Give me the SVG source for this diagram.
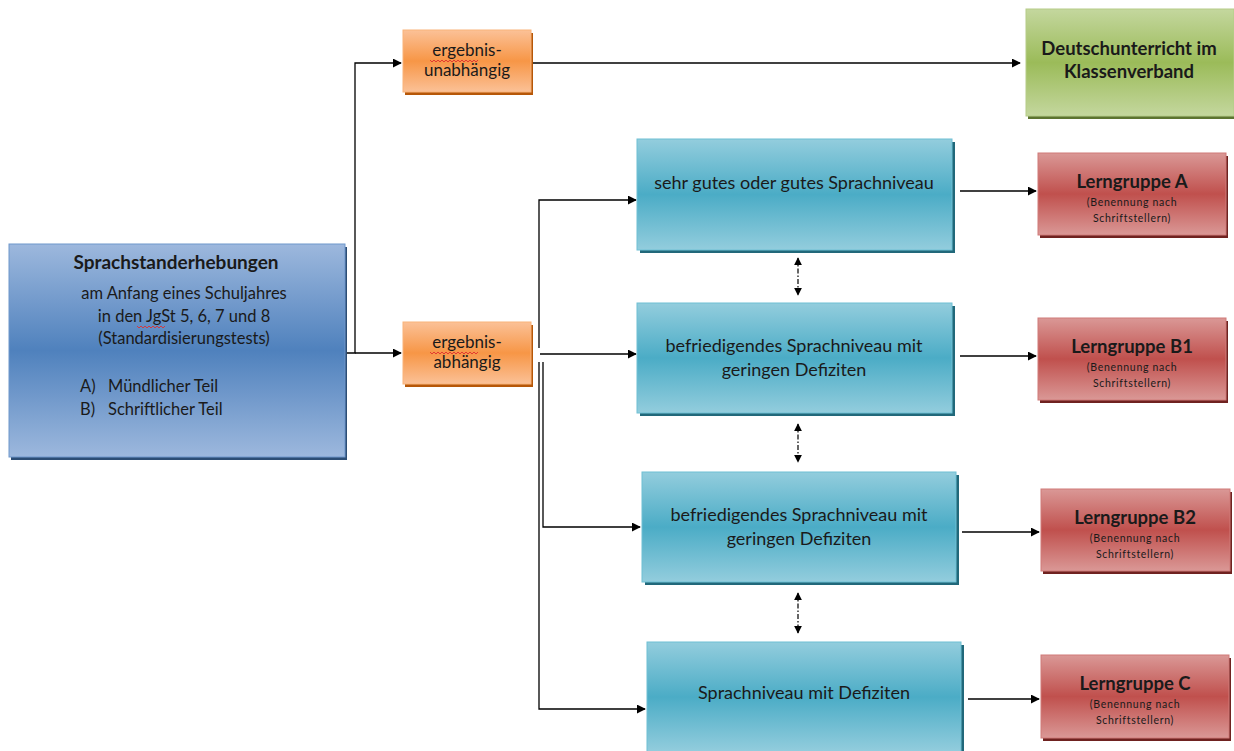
<svg xmlns="http://www.w3.org/2000/svg" width="1234" height="751" viewBox="0 0 1234 751">
<style>
text{font-family:Lato,"Open Sans","Liberation Sans",sans-serif;fill:#1a1a1a;text-anchor:middle}
.b{font-weight:bold;font-size:18.5px}
.t{font-size:18px}
.m{font-size:16.5px}
.o{font-size:17px}
.s{font-size:10.5px;letter-spacing:0.7px}
.ln{fill:none;stroke:#000;stroke-width:1.3}
.dash{fill:none;stroke:#000;stroke-width:1.2;stroke-dasharray:5,2,1.5,2}
.wav{fill:none;stroke:#e03030;stroke-width:0.9}
</style>
<defs>
<linearGradient id="gBlue" x1="0" y1="0" x2="0" y2="1"><stop offset="0" stop-color="#9db8dd"/><stop offset="0.5" stop-color="#4f81bd"/><stop offset="1" stop-color="#9db8dd"/></linearGradient>
<linearGradient id="gTeal" x1="0" y1="0" x2="0" y2="1"><stop offset="0" stop-color="#93cddd"/><stop offset="0.5" stop-color="#4bacc6"/><stop offset="1" stop-color="#93cddd"/></linearGradient>
<linearGradient id="gRed" x1="0" y1="0" x2="0" y2="1"><stop offset="0" stop-color="#da9896"/><stop offset="0.5" stop-color="#c0504d"/><stop offset="1" stop-color="#da9896"/></linearGradient>
<linearGradient id="gGreen" x1="0" y1="0" x2="0" y2="1"><stop offset="0" stop-color="#c4d79e"/><stop offset="0.5" stop-color="#9bbb59"/><stop offset="1" stop-color="#c4d79e"/></linearGradient>
<linearGradient id="gOrange" x1="0" y1="0" x2="0" y2="1"><stop offset="0" stop-color="#fbc197"/><stop offset="0.5" stop-color="#f79646"/><stop offset="1" stop-color="#fbc197"/></linearGradient>
<marker id="ah" viewBox="0 0 10 10" refX="9" refY="5" markerWidth="9" markerHeight="9" markerUnits="userSpaceOnUse" orient="auto"><path d="M0,0 L10,5 L0,10 Z" fill="#000"/></marker>
<marker id="ah2" viewBox="0 0 10 10" refX="9" refY="5" markerWidth="8" markerHeight="8" markerUnits="userSpaceOnUse" orient="auto-start-reverse"><path d="M0,0 L10,5 L0,10 Z" fill="#000"/></marker>
</defs>

<g id="connectors">
<path class="ln" d="M345,353 H355 V63 H401" marker-end="url(#ah)"/>
<path class="ln" d="M355,353 H401" marker-end="url(#ah)"/>
<path class="ln" d="M531,63 H1020" marker-end="url(#ah)"/>
<path class="ln" d="M539,348 V200 H636" marker-end="url(#ah)"/>
<path class="ln" d="M540,354 H636" marker-end="url(#ah)"/>
<path class="ln" d="M543,362 V527 H640" marker-end="url(#ah)"/>
<path class="ln" d="M539,362 V709 H645" marker-end="url(#ah)"/>
<path class="ln" d="M960,191 H1036" marker-end="url(#ah)"/>
<path class="ln" d="M960,356 H1036" marker-end="url(#ah)"/>
<path class="ln" d="M962,532 H1039" marker-end="url(#ah)"/>
<path class="ln" d="M968,699 H1039" marker-end="url(#ah)"/>
<path class="dash" d="M798,258 V295" marker-start="url(#ah2)" marker-end="url(#ah2)"/>
<path class="dash" d="M798,424 V462" marker-start="url(#ah2)" marker-end="url(#ah2)"/>
<path class="dash" d="M798,593 V633" marker-start="url(#ah2)" marker-end="url(#ah2)"/>
</g>

<g id="node-sprachstand">
<rect x="11" y="247" width="336" height="213" fill="#2c4d75"/>
<rect x="9" y="244" width="336" height="213" fill="url(#gBlue)" stroke="#6f97cc" stroke-width="1"/>
<text class="b" x="176" y="269" style="font-size:19px">Sprachstanderhebungen</text>
<text class="m" x="184" y="299">am Anfang eines Schuljahres</text>
<text class="m" x="184" y="322">in den JgSt 5, 6, 7 und 8</text>
<text class="m" x="184" y="344">(Standardisierungstests)</text>
<text class="m" x="80" y="392" style="text-anchor:start">A)</text>
<text class="m" x="108" y="392" style="text-anchor:start">Mündlicher Teil</text>
<text class="m" x="80" y="415" style="text-anchor:start">B)</text>
<text class="m" x="108" y="415" style="text-anchor:start">Schriftlicher Teil</text>
<path class="wav" d="M137,326 l2,2 l2,-2 l2,2 l2,-2 l2,2 l2,-2 l2,2 l2,-2 l2,2 l2,-2 l2,2 l2,-2 l2,2 l2,-2"/>
</g>

<g id="node-unabhaengig">
<rect x="405" y="33" width="128" height="62" fill="#b65708"/>
<rect x="403" y="30" width="128" height="62" fill="url(#gOrange)" stroke="#f9b47a" stroke-width="1"/>
<text class="o" x="467" y="56">ergebnis-</text>
<text class="o" x="467" y="76">unabhängig</text>
<path class="wav" d="M430,60 l2,2 l2,-2 l2,2 l2,-2 l2,2 l2,-2 l2,2 l2,-2 l2,2 l2,-2 l2,2 l2,-2 l2,2 l2,-2 l2,2 l2,-2 l2,2 l2,-2 l2,2 l2,-2 l2,2 l2,-2 l2,2 l2,-2"/>
</g>

<g id="node-abhaengig">
<rect x="405" y="325" width="128" height="62" fill="#b65708"/>
<rect x="403" y="322" width="128" height="62" fill="url(#gOrange)" stroke="#f9b47a" stroke-width="1"/>
<text class="o" x="467" y="348">ergebnis-</text>
<text class="o" x="467" y="368">abhängig</text>
<path class="wav" d="M430,352 l2,2 l2,-2 l2,2 l2,-2 l2,2 l2,-2 l2,2 l2,-2 l2,2 l2,-2 l2,2 l2,-2 l2,2 l2,-2 l2,2 l2,-2 l2,2 l2,-2 l2,2 l2,-2 l2,2 l2,-2 l2,2 l2,-2"/>
</g>

<g id="node-klassenverband">
<rect x="1028" y="12" width="208" height="107" fill="#5c7430"/>
<rect x="1026" y="9" width="208" height="107" fill="url(#gGreen)" stroke="#b5cc88" stroke-width="1"/>
<text class="b" x="1129" y="55">Deutschunterricht im</text>
<text class="b" x="1129" y="78">Klassenverband</text>
</g>

<g id="node-niveau1">
<rect x="640" y="142" width="315" height="111" fill="#21687a"/>
<rect x="637" y="139" width="315" height="111" fill="url(#gTeal)" stroke="#6fc0d4" stroke-width="1"/>
<text class="t" x="794" y="189">sehr gutes oder gutes Sprachniveau</text>
</g>

<g id="node-niveau2">
<rect x="640" y="306" width="315" height="110" fill="#21687a"/>
<rect x="637" y="303" width="315" height="110" fill="url(#gTeal)" stroke="#6fc0d4" stroke-width="1"/>
<text class="t" x="794" y="352">befriedigendes Sprachniveau mit</text>
<text class="t" x="794" y="376">geringen Defiziten</text>
</g>

<g id="node-niveau3">
<rect x="645" y="475" width="314" height="110" fill="#21687a"/>
<rect x="642" y="472" width="314" height="110" fill="url(#gTeal)" stroke="#6fc0d4" stroke-width="1"/>
<text class="t" x="799" y="521">befriedigendes Sprachniveau mit</text>
<text class="t" x="799" y="545">geringen Defiziten</text>
</g>

<g id="node-niveau4">
<rect x="650" y="645" width="314" height="110" fill="#21687a"/>
<rect x="647" y="642" width="314" height="110" fill="url(#gTeal)" stroke="#6fc0d4" stroke-width="1"/>
<text class="t" x="804" y="699">Sprachniveau mit Defiziten</text>
</g>

<g id="node-lernA">
<rect x="1040" y="156" width="188" height="82" fill="#6f2220"/>
<rect x="1038" y="153" width="188" height="82" fill="url(#gRed)" stroke="#d07a78" stroke-width="1"/>
<text class="b" x="1132" y="188">Lerngruppe A</text>
<text class="s" x="1132" y="206">(Benennung nach</text>
<text class="s" x="1132" y="222">Schriftstellern)</text>
</g>

<g id="node-lernB1">
<rect x="1040" y="321" width="188" height="82" fill="#6f2220"/>
<rect x="1038" y="318" width="188" height="82" fill="url(#gRed)" stroke="#d07a78" stroke-width="1"/>
<text class="b" x="1132" y="353">Lerngruppe B1</text>
<text class="s" x="1132" y="371">(Benennung nach</text>
<text class="s" x="1132" y="387">Schriftstellern)</text>
</g>

<g id="node-lernB2">
<rect x="1043" y="492" width="189" height="82" fill="#6f2220"/>
<rect x="1041" y="489" width="189" height="82" fill="url(#gRed)" stroke="#d07a78" stroke-width="1"/>
<text class="b" x="1135" y="524">Lerngruppe B2</text>
<text class="s" x="1135" y="542">(Benennung nach</text>
<text class="s" x="1135" y="558">Schriftstellern)</text>
</g>

<g id="node-lernC">
<rect x="1043" y="658" width="188" height="83" fill="#6f2220"/>
<rect x="1041" y="655" width="188" height="83" fill="url(#gRed)" stroke="#d07a78" stroke-width="1"/>
<text class="b" x="1135" y="690">Lerngruppe C</text>
<text class="s" x="1135" y="708">(Benennung nach</text>
<text class="s" x="1135" y="724">Schriftstellern)</text>
</g>
</svg>
